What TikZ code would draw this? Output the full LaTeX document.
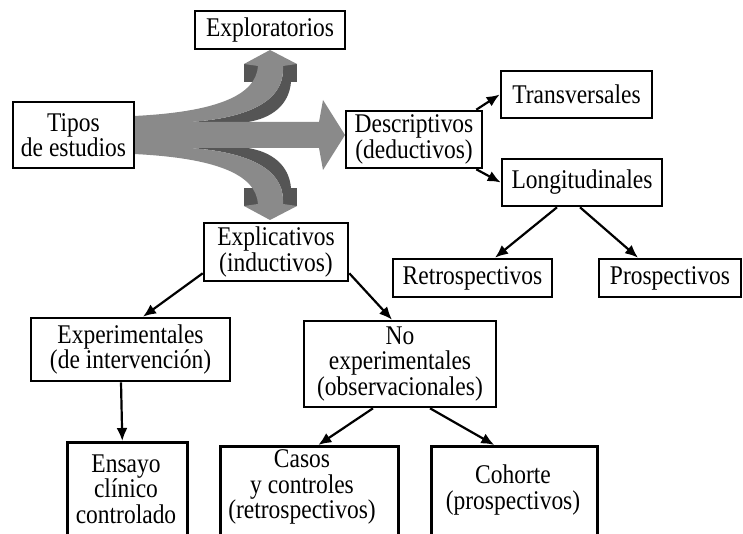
\documentclass[tikz,border=0pt]{standalone}
\usepackage{fontspec}
\setmainfont{Liberation Serif}[FakeStretch=0.87]
\usetikzlibrary{arrows.meta}
\definecolor{lightg}{RGB}{138,138,138}
\definecolor{darkg}{RGB}{85,85,85}
\newcommand\myribbon{%
  \fill[darkg] (190,122) .. controls (250,118) and (283,100) .. (283,70) -- (291,70) -- (291,82) .. controls (289,105) and (272,118) .. (248,122) -- cycle;
  \fill[darkg] (244,64) rectangle (258,82);
  \fill[darkg] (283,64) rectangle (297,82);
  \fill[lightg] (134,116) .. controls (215,112) and (256,96) .. (258,66) -- (244,64) -- (270,50) -- (297,64) -- (283,66) -- (283,70) .. controls (283,100) and (250,118) .. (190,122) -- (134,122) -- cycle;
}
\begin{document}
\begin{tikzpicture}[x=1pt,y=-1pt,
  box/.style={draw=black, line width=2.6pt, fill=white, inner sep=0pt, align=center,
    font=\fontsize{27}{25.5}\selectfont},
  txt/.style={inner sep=0pt, align=center, font=\fontsize{27}{25.5}\selectfont},
  conn/.style={line width=2.2pt, -{Latex[length=13pt,width=11pt]}}]
\clip (0,0) rectangle (743,534);
\useasboundingbox (0,0) rectangle (743,534);
% big grey arrows
\myribbon
\begin{scope}[shift={(0,135)}, yscale=-1, shift={(0,-135)}]
  \myribbon
\end{scope}
\fill[lightg] (134,122) -- (319,122) -- (323,100) -- (345,135) -- (323,170) -- (319,148) -- (134,148) -- cycle;
% boxes
\node[box, minimum width=121, minimum height=66] (tipos) at (73.5,135) {Tipos\\de estudios};
\node[box, minimum width=150, minimum height=38] (explo) at (270,30) {Exploratorios};
\node[box, minimum width=136, minimum height=57] (desc) at (414,139.5) {Descriptivos\\(deductivos)};
\node[box, minimum width=151, minimum height=47] (trans) at (576.5,94.5) {Transversales};
\node[box, minimum width=160, minimum height=47] (long) at (582,182.5) {Longitudinales};
\node[box, minimum width=159, minimum height=38] (retro) at (472.5,278) {Retrospectivos};
\node[box, minimum width=142, minimum height=38] (prosp) at (670,278) {Prospectivos};
\node[box, minimum width=144, minimum height=58] (expl) at (276,252) {Explicativos\\(inductivos)};
\node[box, minimum width=199, minimum height=63] (exper) at (130.5,349.5) {Experimentales\\(de intervención)};
\node[box, minimum width=192, minimum height=86] (noexp) at (400,364) {No\\experimentales\\(observacionales)};
\node[box, minimum width=120, minimum height=119, anchor=north west] (ensayo) at (66,441) {};
\node[box, minimum width=178, minimum height=115, anchor=north west] (casos) at (219,445) {};
\node[box, minimum width=166, minimum height=115, anchor=north west] (coh) at (430,445) {};
\node[txt] (ensayoT) at (126,489) {Ensayo\\clínico\\controlado};
\node[txt] (casosT) at (302,487) {Casos\\y controles\\(retrospectivos)};
\node[txt] (cohT) at (513,490) {Cohorte\\(prospectivos)};
% connectors
\draw[conn] ([xshift=-7]desc.north east) -- (trans.west);
\draw[conn] ([xshift=-7]desc.south east) -- (long.west);
\draw[conn] ([xshift=-25]long.south) -- ([xshift=22.5]retro.north);
\draw[conn] ([xshift=-2]long.south) -- ([xshift=-32]prosp.north);
\draw[conn] ([yshift=9]expl.south west) -- ([xshift=12.5]exper.north);
\draw[conn] ([yshift=9]expl.south east) -- ([xshift=-8]noexp.north);
\draw[conn] ([xshift=-9.5]exper.south) -- ([xshift=-5]ensayo.north);
\draw[conn] ([xshift=-27]noexp.south) -- ([xshift=9]casos.north);
\draw[conn] ([xshift=30]noexp.south) -- ([xshift=-20]coh.north);
\end{tikzpicture}
\end{document}
